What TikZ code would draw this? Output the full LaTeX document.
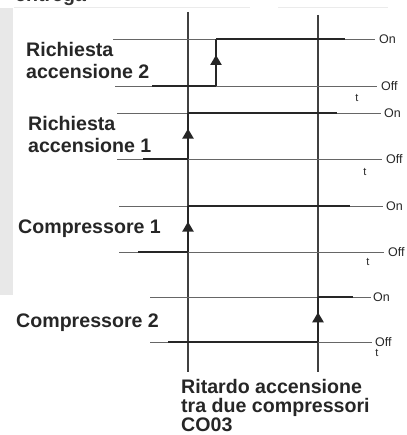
\documentclass[tikz,border=0pt]{standalone}
\usepackage{fontspec}
\setmainfont{Liberation Sans}
\usetikzlibrary{arrows.meta,decorations.markings}
\begin{document}
\begin{tikzpicture}[x=1pt,y=-1pt,
  level/.style={draw=black!60, line width=0.9pt},
  sig/.style={draw=black!85, line width=2.4pt},
  vline/.style={draw=black!75, line width=1.4pt},
  rise/.style={draw=black!85, line width=2.4pt, postaction={decorate},
    decoration={markings, mark=at position 0.66 with {\arrow{Triangle[length=10pt,width=11pt]}}}},
  lbl/.style={font=\fontsize{19.6}{22}\selectfont\bfseries, text=black!85, inner sep=0, anchor=base west},
  onoff/.style={font=\fontsize{12.5}{14}\selectfont, text=black!85, inner sep=0, anchor=west},
  tlbl/.style={font=\fontsize{11}{12}\selectfont, text=black!85, inner sep=0},
]
\useasboundingbox (0,0) rectangle (406,435);
\begin{scope}
\clip (0,0) rectangle (406,435);
\node[lbl, text=black!80] (top) at (15,1.5) {entrega};
\end{scope}
\fill[black!9] (0,8) rectangle (13,295);
\draw[black!8, line width=0.8pt] (14,7) -- (250,7) (278,7) -- (388,7);

% vertical reference lines
\coordinate (v1t) at (188,12); \coordinate (v1b) at (188,372);
\coordinate (v2t) at (318,15); \coordinate (v2b) at (318,372);
\draw[vline] (v1t) -- (v1b);
\draw[vline] (v2t) -- (v2b);

% Row 1: Richiesta accensione 2
\coordinate (r1on0) at (113,39); \coordinate (r1on1) at (375,39);
\coordinate (r1off0) at (115,86); \coordinate (r1off1) at (377,86);
\draw[level] (r1on0) -- (r1on1);
\draw[level] (r1off0) -- (r1off1);
\coordinate (r1a) at (152,86); \coordinate (r1b) at (216,86);
\coordinate (r1c) at (216,39); \coordinate (r1d) at (345,39);
\draw[sig] (r1a) -- (r1b);
\draw[rise] (r1b) -- (r1c);
\draw[sig] (r1c) -- (r1d);
\node[onoff] (r1on) at (379,39) {On};
\node[onoff] (r1off) at (381,86) {Off};
\node[tlbl] (r1t) at (357,98) {t};
\node[lbl] (l1a) at (26,57) {Richiesta};
\node[lbl] (l1b) at (26,79) {accensione 2};

% Row 2: Richiesta accensione 1
\coordinate (r2on0) at (117,113); \coordinate (r2on1) at (381,113);
\coordinate (r2off0) at (117,159); \coordinate (r2off1) at (382,159);
\draw[level] (r2on0) -- (r2on1);
\draw[level] (r2off0) -- (r2off1);
\coordinate (r2a) at (143,159); \coordinate (r2b) at (188,159);
\coordinate (r2c) at (188,113); \coordinate (r2d) at (337,113);
\draw[sig] (r2a) -- (r2b);
\draw[rise] (r2b) -- (r2c);
\draw[sig] (r2c) -- (r2d);
\node[onoff] (r2on) at (384,113) {On};
\node[onoff] (r2off) at (386,159) {Off};
\node[tlbl] (r2t) at (365,172) {t};
\node[lbl] (l2a) at (28,131) {Richiesta};
\node[lbl] (l2b) at (28,153) {accensione 1};

% Row 3: Compressore 1
\coordinate (r3on0) at (119,206); \coordinate (r3on1) at (383,206);
\coordinate (r3off0) at (119,252); \coordinate (r3off1) at (384,252);
\draw[level] (r3on0) -- (r3on1);
\draw[level] (r3off0) -- (r3off1);
\coordinate (r3a) at (138,252); \coordinate (r3b) at (188,252);
\coordinate (r3c) at (188,206); \coordinate (r3d) at (350,206);
\draw[sig] (r3a) -- (r3b);
\draw[rise] (r3b) -- (r3c);
\draw[sig] (r3c) -- (r3d);
\node[onoff] (r3on) at (386,206) {On};
\node[onoff] (r3off) at (388,252) {Off};
\node[tlbl] (r3t) at (368,262) {t};
\node[lbl] (l3) at (18,233) {Compressore 1};

% Row 4: Compressore 2
\coordinate (r4on0) at (150,297); \coordinate (r4on1) at (371,297);
\coordinate (r4off0) at (150,342); \coordinate (r4off1) at (372,342);
\draw[level] (r4on0) -- (r4on1);
\draw[level] (r4off0) -- (r4off1);
\coordinate (r4a) at (168,342); \coordinate (r4b) at (318,342);
\coordinate (r4c) at (318,297); \coordinate (r4d) at (353,297);
\draw[sig] (r4a) -- (r4b);
\draw[rise] (r4b) -- (r4c);
\draw[sig] (r4c) -- (r4d);
\node[onoff] (r4on) at (373,297) {On};
\node[onoff] (r4off) at (375,342) {Off};
\node[tlbl] (r4t) at (377,353) {t};
\node[lbl] (l4) at (16,327) {Compressore 2};

% bottom caption
\node[lbl] (cap1) at (181,393) {Ritardo accensione};
\node[lbl] (cap2) at (181,412) {tra due compressori};
\node[lbl] (cap3) at (181,431) {CO03};
\end{tikzpicture}
\end{document}
